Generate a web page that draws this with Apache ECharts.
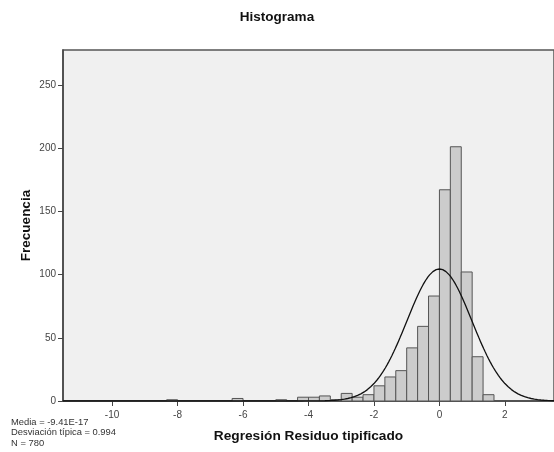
<!DOCTYPE html>
<html>
<head>
<meta charset="utf-8">
<script src="https://cdn.jsdelivr.net/npm/echarts@6/dist/echarts.min.js"></script>
<style>
html,body{margin:0;padding:0;background:#ffffff;}
#chart{width:554px;height:452px;}
</style>
</head>
<body>
<div id="chart"></div>
<script>
// ---- data ----
const binStarts = [-25/3, -19/3, -5, -13/3, -4, -11/3, -10/3, -3, -8/3, -7/3, -2, -5/3, -4/3, -1, -2/3, -1/3, 0, 1/3, 2/3, 1, 4/3];
const counts    = [1, 2, 1, 3, 3, 4, 1, 6, 3, 5, 12, 19, 24, 42, 59, 83, 167, 201, 102, 35, 5];
const binWidth = 1/3;
const xTicks = [-10, -8, -6, -4, -2, 0, 2];
const yTicks = [0, 50, 100, 150, 200, 250];
const statMean = -9.41e-17;
const statSd = 0.994;
const statN = 780;
const statLines = ['Media = -9.41E-17', 'Desviación típica = 0.994', 'N = 780'];

// ---- build ----
const barData = binStarts.map((s, i) => [s, s + binWidth, counts[i]]);
const curve = [];
for (let x = -11.5; x <= 3.5001; x += 0.05) {
  const z = (x - statMean) / statSd;
  curve.push([x, statN * binWidth * Math.exp(-0.5 * z * z) / (statSd * Math.sqrt(2 * Math.PI))]);
}

const chart = echarts.init(document.getElementById('chart'), null, {renderer: 'canvas'});
const font = 'Liberation Sans, Arial, sans-serif';
chart.setOption({
  animation: false,
  backgroundColor: '#ffffff',
  title: {
    text: 'Histograma', left: 'center', top: 5,
    textStyle: {fontFamily: font, fontSize: 13.5, fontWeight: 'bold', color: '#111'}
  },
  graphic: [{
    type: 'text', left: 11, top: 417,
    style: {text: statLines.join('\n'), fontFamily: font, fontSize: 9.4, lineHeight: 10.5, fill: '#333'}
  }],
  grid: {
    left: 63, top: 50, right: -11.5, bottom: 51,
    show: true, backgroundColor: '#f0f0f0', borderColor: '#555', borderWidth: 1.5
  },
  xAxis: {
    type: 'value', min: -11.5, max: 3.5,
    name: 'Regresión Residuo tipificado', nameLocation: 'middle', nameGap: 28, nameMoveOverlap: false,
    nameTextStyle: {fontFamily: font, fontSize: 13.7, fontWeight: 'bold', color: '#111'},
    splitLine: {show: false},
    axisLine: {show: true, onZero: false, lineStyle: {color: '#444', width: 1.5}},
    axisTick: {show: true, inside: false, length: 5, customValues: xTicks, lineStyle: {color: '#444'}},
    axisLabel: {customValues: xTicks, fontFamily: font, fontSize: 10, color: '#444', margin: 9}
  },
  yAxis: {
    type: 'value', min: 0, max: 277.5,
    name: 'Frecuencia', nameLocation: 'middle', nameGap: 30, nameRotate: 90, nameMoveOverlap: false,
    nameTextStyle: {fontFamily: font, fontSize: 13.5, fontWeight: 'bold', color: '#111'},
    splitLine: {show: false},
    axisLine: {show: true, onZero: false, lineStyle: {color: '#444', width: 1.5}},
    axisTick: {show: true, inside: false, length: 5, customValues: yTicks, lineStyle: {color: '#444'}},
    axisLabel: {customValues: yTicks, fontFamily: font, fontSize: 10, color: '#444', margin: 7}
  },
  series: [{
    type: 'custom',
    data: barData,
    renderItem: function (params, api) {
      const p0 = api.coord([api.value(0), api.value(2)]);
      const p1 = api.coord([api.value(1), 0]);
      return {
        type: 'rect',
        shape: {x: p0[0], y: p0[1], width: p1[0] - p0[0], height: p1[1] - p0[1]},
        style: {fill: '#cccccc', stroke: '#555', lineWidth: 1}
      };
    },
    z: 2
  }, {
    type: 'line', data: curve, showSymbol: false, smooth: false,
    lineStyle: {color: '#111', width: 1.3}, z: 3
  }]
});
</script>
</body>
</html>
